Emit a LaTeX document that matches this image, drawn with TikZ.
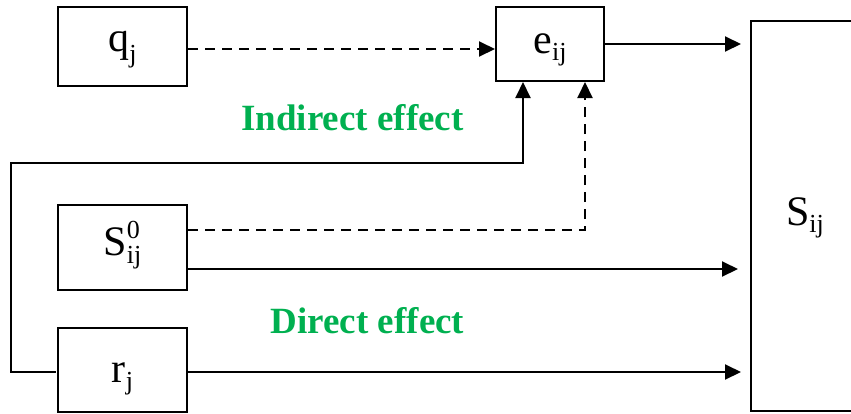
\documentclass[tikz,border=0pt]{standalone}
\usepackage{fontspec}
\setmainfont{Liberation Serif}
\usetikzlibrary{arrows.meta}
\definecolor{effgreen}{RGB}{0,176,80}
\newcommand{\lsub}[2][7bp]{\raisebox{-#1}{\fontsize{26bp}{28bp}\selectfont #2}}
\newcommand{\lsup}[1]{\raisebox{17bp}{\fontsize{26bp}{28bp}\selectfont #1}}
\begin{document}
\begin{tikzpicture}[x=1bp,y=-1bp,
  box/.style={draw,line width=2bp,inner sep=0pt,text height=30bp,font=\fontsize{42bp}{44bp}\selectfont},
  conn/.style={line width=2bp,-{Triangle[length=16bp,width=15bp]}},
  dconn/.style={conn,dash pattern=on 10bp off 7bp},
  efflabel/.style={anchor=base,text=effgreen,inner sep=0pt,font=\bfseries\fontsize{37bp}{39bp}\selectfont}]
\useasboundingbox (0,0) rectangle (851,413);
\begin{scope}
\clip (0,0) rectangle (851,413);
\node[box,text depth=21bp,minimum width=129bp,minimum height=79bp] (q) at (122.5,46.5) {q\lsub[11bp]{j}};
\node[box,text depth=12bp,minimum width=108bp,minimum height=74bp] (e) at (550,44) {e\lsub{ij}};
\node[box,text depth=12bp,minimum width=108bp,minimum height=390bp] (S) at (805,216) {S\lsub{ij}};
\node[box,text depth=15bp,minimum width=129bp,minimum height=85bp] (S0) at (122.5,247.5) {S\rlap{\lsup{0}}\lsub[8bp]{ij}};
\node[box,text depth=4bp,minimum width=129bp,minimum height=84bp] (r) at (122.5,369.5) {r\lsub{j}};
\coordinate (k1) at (11,163);
\draw[dconn] ([yshift=-2.5bp]q.east) -- ([yshift=-2.5bp]q.east -| e.west);
\draw[conn,shorten >=9bp] (e.east) -- (e.east -| S.west);
\draw[conn,shorten <=1bp] ([yshift=-2.5bp]r.west) -| (k1) -| ([xshift=-27bp]e.south);
\draw[dconn] ([yshift=17.5bp]S0.east) -| ([xshift=35bp]e.south);
\draw[conn,shorten >=12bp] ([yshift=-21.5bp]S0.east) -- ([yshift=-21.5bp]S0.east -| S.west);
\draw[conn,shorten >=9bp] ([yshift=-2.5bp]r.east) -- ([yshift=-2.5bp]r.east -| S.west);
\node[efflabel] (ind) at (352.5,130) {Indirect effect};
\node[efflabel] (dir) at (367.5,333) {Direct effect};
\end{scope}
\end{tikzpicture}
\end{document}
